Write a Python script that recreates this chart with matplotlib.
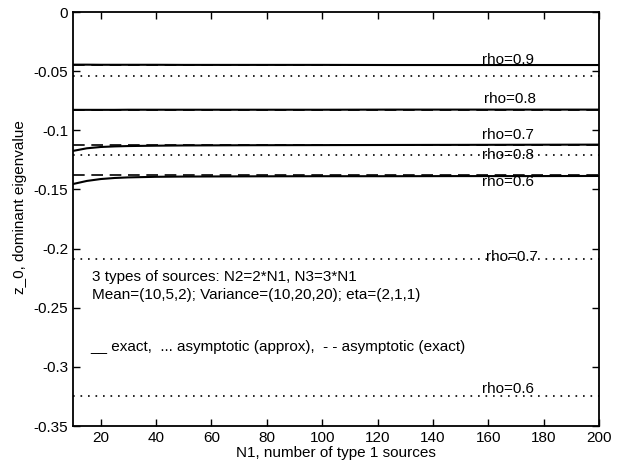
import matplotlib
matplotlib.use('Agg')
import matplotlib.pyplot as plt

plt.rcParams['font.family'] = ['Liberation Sans', 'DejaVu Sans']

# N1 values where the exact eigenvalue was computed
n1 = [10, 15, 20, 25, 30, 40, 50, 75, 100, 125, 150, 175, 200]
n1_range = [10, 200]

# exact dominant eigenvalue (solid)
exact_09 = [-0.0445, -0.0445, -0.0446, -0.0446, -0.0446, -0.0446, -0.0447, -0.0447, -0.0447, -0.0448, -0.0448, -0.0448, -0.0448]
exact_08 = [-0.0827, -0.0827, -0.0827, -0.0827, -0.0826, -0.0826, -0.0826, -0.0826, -0.0826, -0.0825, -0.0825, -0.0825, -0.0825]
exact_07 = [-0.1174, -0.1152, -0.1141, -0.1136, -0.1133, -0.1130, -0.1128, -0.1126, -0.1125, -0.1124, -0.1123, -0.1122, -0.1121]
exact_06 = [-0.1454, -0.1428, -0.1412, -0.1403, -0.1398, -0.1393, -0.1391, -0.1389, -0.1388, -0.1388, -0.1387, -0.1387, -0.1386]

# asymptotic values
rhos = [0.9, 0.8, 0.7, 0.6]
asym_exact = [-0.0447, -0.0826, -0.1122, -0.1380]
asym_approx = [-0.0537, -0.1208, -0.2092, -0.3245]

# labels: (N1, z, text)
label_x = [167, 168, 167, 167, 167, 168.5, 167]
label_y = [-0.0406, -0.0735, -0.1040, -0.1210, -0.1437, -0.2070, -0.3187]
label_txt = ['rho=0.9', 'rho=0.8', 'rho=0.7', 'rho=0.8', 'rho=0.6', 'rho=0.7', 'rho=0.6']

fig = plt.figure(figsize=(6.29, 4.68), dpi=100)
ax = fig.add_axes([0.1161, 0.0897, 0.8362, 0.8846])

for ex in [exact_09, exact_08, exact_07, exact_06]:
    ax.plot(n1, ex, color='black', lw=1.5, ls='-')
ax.hlines(asym_exact, n1_range[0], n1_range[1], colors='black', lw=1.2, linestyles=[(0, (7, 4))])
ax.hlines(asym_approx, n1_range[0], n1_range[1], colors='black', lw=1.2, linestyles=[(0, (1, 3.5))])

for x, y, t in zip(label_x, label_y, label_txt):
    ax.text(x, y, t, ha='center', va='center', fontsize=11)

ax.text(16.9, -0.224, '3 types of sources: N2=2*N1, N3=3*N1', ha='left', va='center', fontsize=11)
ax.text(16.9, -0.239, 'Mean=(10,5,2); Variance=(10,20,20); eta=(2,1,1)', ha='left', va='center', fontsize=11)
ax.text(16.1, -0.283, '__ exact,  ... asymptotic (approx),  - - asymptotic (exact)', ha='left', va='center', fontsize=11)

ax.set_xlim(10, 200)
ax.set_ylim(-0.35, 0)
ax.set_xticks([20, 40, 60, 80, 100, 120, 140, 160, 180, 200])
ax.set_yticks([0, -0.05, -0.1, -0.15, -0.2, -0.25, -0.3, -0.35])
ax.set_yticklabels(['0', '-0.05', '-0.1', '-0.15', '-0.2', '-0.25', '-0.3', '-0.35'])
ax.tick_params(direction='in', top=True, right=True, labelsize=11, length=5, width=1)
for s in ax.spines.values():
    s.set_linewidth(1.3)

ax.set_xlabel('N1, number of type 1 sources', fontsize=11, labelpad=1)
ax.set_ylabel('z_0, dominant eigenvalue', fontsize=11)
ax.yaxis.set_label_coords(-0.088, 0.53)

fig.savefig('out.png', dpi=100)
